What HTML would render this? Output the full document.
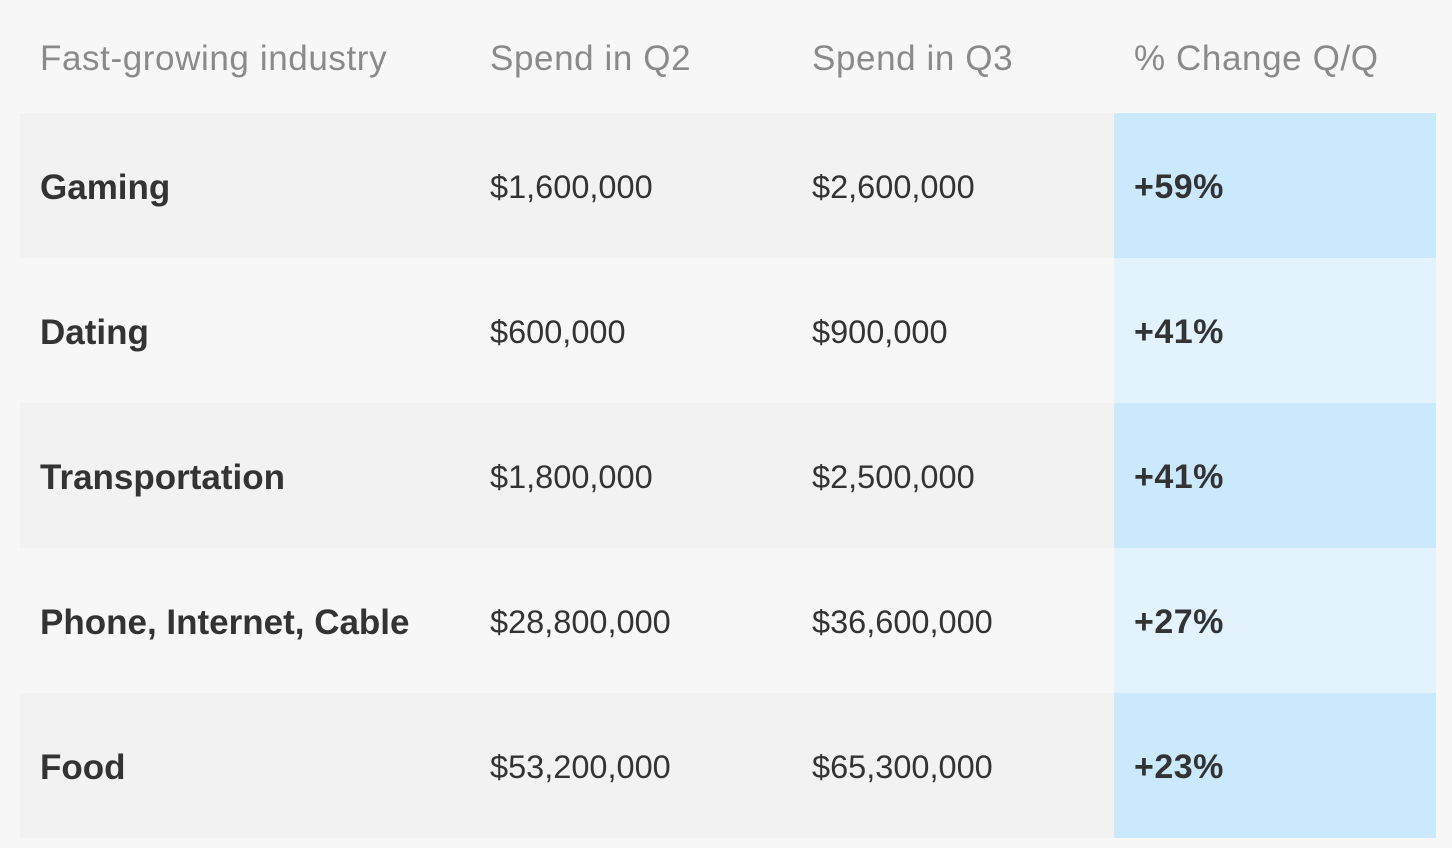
<!DOCTYPE html>
<html><head><style>
html,body{margin:0;padding:0;background:#f7f7f7;width:1452px;height:848px;overflow:hidden;font-family:"Liberation Sans",sans-serif;}
.r{position:absolute;left:20px;width:1416px;height:145px;}
.r.o{background:#f2f2f2;}
.b{position:absolute;left:1094px;top:0;width:322px;height:100%;background:#e2f3fe;}
.o .b{background:#cbe9fc;}
.c{position:absolute;top:2px;height:100%;display:flex;align-items:center;color:#333;}
.n{left:20px;font-weight:bold;font-size:35px;letter-spacing:0px;}
.v{font-size:32.5px;letter-spacing:0px;}
.p{left:1114px;font-weight:bold;font-size:34px;letter-spacing:0.5px;}
.h{position:absolute;top:2px;height:113px;display:flex;align-items:center;color:#8a8a8a;font-size:35px;letter-spacing:0.6px;}
</style></head><body>
<div class="h" style="left:40px">Fast-growing industry</div>
<div class="h" style="left:490px">Spend in Q2</div>
<div class="h" style="left:812px">Spend in Q3</div>
<div class="h" style="left:1134px">% Change Q/Q</div>

<div class="r o" style="top:113px"><div class="b"></div><div class="c n">Gaming</div><div class="c v" style="left:470px">$1,600,000</div><div class="c v" style="left:792px">$2,600,000</div><div class="c p">+59%</div></div>
<div class="r" style="top:258px"><div class="b"></div><div class="c n">Dating</div><div class="c v" style="left:470px">$600,000</div><div class="c v" style="left:792px">$900,000</div><div class="c p">+41%</div></div>
<div class="r o" style="top:403px"><div class="b"></div><div class="c n">Transportation</div><div class="c v" style="left:470px">$1,800,000</div><div class="c v" style="left:792px">$2,500,000</div><div class="c p">+41%</div></div>
<div class="r" style="top:548px"><div class="b"></div><div class="c n">Phone, Internet, Cable</div><div class="c v" style="left:470px">$28,800,000</div><div class="c v" style="left:792px">$36,600,000</div><div class="c p">+27%</div></div>
<div class="r o" style="top:693px"><div class="b"></div><div class="c n">Food</div><div class="c v" style="left:470px">$53,200,000</div><div class="c v" style="left:792px">$65,300,000</div><div class="c p">+23%</div></div>
</body></html>
